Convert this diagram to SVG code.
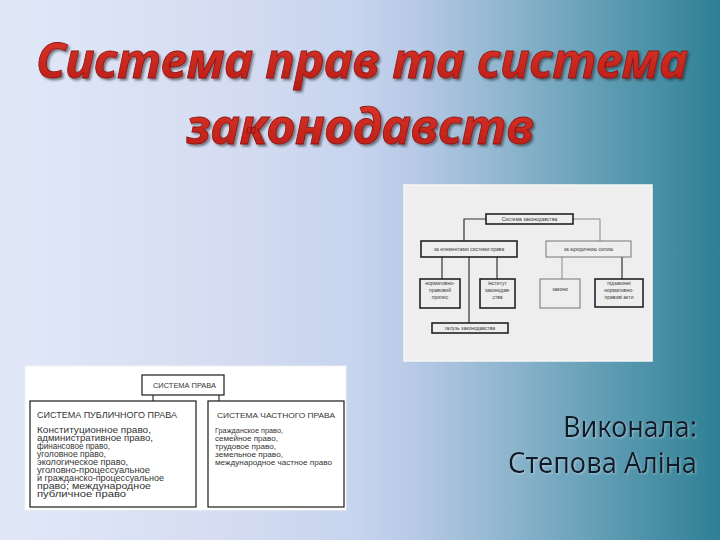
<svg xmlns="http://www.w3.org/2000/svg" width="720" height="540" viewBox="0 0 720 540">
<defs>
<linearGradient id="bg" x1="0" y1="0" x2="1" y2="0">
<stop offset="0" stop-color="#e0e8f8"/>
<stop offset="0.3" stop-color="#d6ddf2"/>
<stop offset="0.5" stop-color="#c6d4ee"/>
<stop offset="0.58" stop-color="#b6c9e6"/>
<stop offset="0.7" stop-color="#90b6cf"/>
<stop offset="0.85" stop-color="#5c9bb2"/>
<stop offset="1" stop-color="#2e8094"/>
</linearGradient>
<linearGradient id="red" x1="0" y1="0" x2="0" y2="1">
<stop offset="0" stop-color="#e03a2c"/>
<stop offset="1" stop-color="#b81a16"/>
</linearGradient>
<filter id="sh" x="-5%" y="-20%" width="110%" height="140%">
<feDropShadow dx="2" dy="2" stdDeviation="1.2" flood-color="#2a2a2a" flood-opacity="0.55"/>
</filter>
<filter id="sh2" x="-5%" y="-20%" width="110%" height="140%">
<feDropShadow dx="1" dy="1" stdDeviation="0.8" flood-color="#ffffff" flood-opacity="0.35"/>
</filter>
</defs>
<style>
.title{font-family:"Noto Sans","Open Sans",sans-serif;font-weight:bold;font-style:italic;font-size:49px;fill:url(#red);stroke:#8e1410;stroke-width:0.8;text-anchor:middle;filter:url(#sh)}
.auth{font-family:"Noto Sans","Open Sans",sans-serif;font-size:29px;fill:#0c1a2c;text-anchor:end;filter:url(#sh2)}
.b1{fill:none;stroke:#222;stroke-width:1.6}
.b2{fill:none;stroke:#777;stroke-width:1}
.t1{font-family:"Liberation Sans",Arial,sans-serif;font-size:5px;fill:#3a3a3a;text-anchor:middle}
.bx{fill:#fff;stroke:#1a1a1a;stroke-width:1.2}
.t2{font-family:"Liberation Sans",Arial,sans-serif;font-size:7.6px;fill:#333}
.t3{font-family:"Liberation Sans",Arial,sans-serif;font-size:8.2px;fill:#333}
.ln{fill:none;stroke:#333;stroke-width:1.2}
.ln2{fill:none;stroke:#888;stroke-width:1}
</style>
<rect width="720" height="540" fill="url(#bg)"/>
<g id="title">
<text class="title" x="362" y="78" textLength="652" lengthAdjust="spacingAndGlyphs">Система прав та система</text>
<text class="title" x="360" y="144" textLength="348" lengthAdjust="spacingAndGlyphs">законодавств</text>
</g>
<g id="author">
<text class="auth" x="697" y="437" textLength="134" lengthAdjust="spacingAndGlyphs">Виконала:</text>
<text class="auth" x="697" y="473" textLength="189" lengthAdjust="spacingAndGlyphs">Степова Аліна</text>
</g>
<g id="scheme-legislation">
<rect x="404" y="185" width="248" height="176" fill="#eeeeee" stroke="#f6f6f6" stroke-width="1.5"/>
<g id="connectors-legislation">
<polyline class="ln" points="486,219 464,219 464,241"/>
<polyline class="ln2" points="573,219 600,219 600,241"/>
<line class="ln" x1="442" y1="257" x2="442" y2="279"/>
<line class="ln" x1="497" y1="257" x2="497" y2="279"/>
<line class="ln" x1="469" y1="257" x2="469" y2="323"/>
<line class="ln2" x1="562" y1="257" x2="562" y2="279"/>
<line class="ln" x1="622" y1="257" x2="622" y2="279"/>
</g>
<g id="n-sz">
<rect class="b1" x="486" y="214" width="87" height="10"/>
<text class="t1" x="529.5" y="220.8">Система законодавства</text>
</g>
<g id="n-el">
<rect class="b1" x="421" y="241" width="96" height="16"/>
<text class="t1" x="469" y="250.8">за елементами системи права</text>
</g>
<g id="n-yur">
<rect class="b2" x="546" y="241" width="85" height="16"/>
<text class="t1" x="588.5" y="250.8">за юридичною силою</text>
</g>
<g id="n-npp">
<rect class="b1" x="420" y="279" width="40" height="29"/>
<text class="t1" x="440" y="285">нормативно-</text>
<text class="t1" x="440" y="292">правовий</text>
<text class="t1" x="440" y="299">припис</text>
</g>
<g id="n-inst">
<rect class="b1" x="480" y="279" width="35" height="29"/>
<text class="t1" x="497.5" y="285">інститут</text>
<text class="t1" x="497.5" y="292">законодав-</text>
<text class="t1" x="497.5" y="299">ства</text>
</g>
<g id="n-zak">
<rect class="b2" x="540" y="279" width="40" height="29"/>
<text class="t1" x="560" y="291">закони</text>
</g>
<g id="n-pidz">
<rect class="b1" x="595" y="279" width="48" height="28"/>
<text class="t1" x="619" y="285">підзаконні</text>
<text class="t1" x="619" y="292">нормативно-</text>
<text class="t1" x="619" y="299">правові акти</text>
</g>
<g id="n-gal">
<rect class="b1" x="432" y="323" width="76" height="10"/>
<text class="t1" x="470" y="329.8">галузь законодавства</text>
</g>
</g>
<g id="scheme-law">
<rect x="25" y="366" width="321" height="144" fill="#ffffff" stroke="#f2f2f2" stroke-width="1"/>
<g id="connectors-law">
<line class="ln" x1="153" y1="395" x2="153" y2="401"/>
<line class="ln" x1="219" y1="395" x2="219" y2="401"/>
</g>
<g id="n-sp">
<rect class="bx" x="142" y="375" width="82" height="20"/>
<text class="t2" x="153" y="388" textLength="63" lengthAdjust="spacingAndGlyphs">СИСТЕМА ПРАВА</text>
</g>
<g id="n-pub">
<rect class="bx" x="30" y="401" width="166" height="106"/>
<text class="t3" x="37" y="418" textLength="140" lengthAdjust="spacingAndGlyphs">СИСТЕМА ПУБЛИЧНОГО ПРАВА</text>
<text class="t3" x="37" y="433" textLength="114" lengthAdjust="spacingAndGlyphs">Конституционное право,</text>
<text class="t3" x="37" y="441" textLength="116" lengthAdjust="spacingAndGlyphs">административное право,</text>
<text class="t3" x="37" y="449" textLength="73" lengthAdjust="spacingAndGlyphs">финансовое право,</text>
<text class="t3" x="37" y="457" textLength="69" lengthAdjust="spacingAndGlyphs">уголовное право,</text>
<text class="t3" x="37" y="465" textLength="91" lengthAdjust="spacingAndGlyphs">экологическое право,</text>
<text class="t3" x="37" y="473" textLength="113" lengthAdjust="spacingAndGlyphs">уголовно-процессуальное</text>
<text class="t3" x="37" y="481" textLength="127" lengthAdjust="spacingAndGlyphs">и гражданско-процессуальное</text>
<text class="t3" x="37" y="488.5" textLength="114" lengthAdjust="spacingAndGlyphs">право; международное</text>
<text class="t3" x="37" y="496.5" textLength="89" lengthAdjust="spacingAndGlyphs">публичное право</text>
</g>
<g id="n-priv">
<rect class="bx" x="208" y="401" width="136" height="106"/>
<text class="t2" x="217" y="418" textLength="118" lengthAdjust="spacingAndGlyphs">СИСТЕМА ЧАСТНОГО ПРАВА</text>
<text class="t2" x="215" y="433" textLength="68" lengthAdjust="spacingAndGlyphs">Гражданское право,</text>
<text class="t2" x="215" y="441" textLength="63" lengthAdjust="spacingAndGlyphs">семейное право,</text>
<text class="t2" x="215" y="449" textLength="61" lengthAdjust="spacingAndGlyphs">трудовое право,</text>
<text class="t2" x="215" y="457" textLength="68" lengthAdjust="spacingAndGlyphs">земельное право,</text>
<text class="t2" x="215" y="465" textLength="117" lengthAdjust="spacingAndGlyphs">международное частное право</text>
</g>
</g>
</svg>
